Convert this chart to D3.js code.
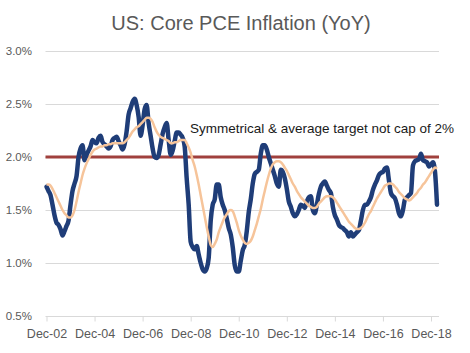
<!DOCTYPE html>
<html>
<head>
<meta charset="utf-8">
<script src="https://cdn.jsdelivr.net/npm/d3@7"></script>
<style>
html,body{margin:0;padding:0;background:#fff;}
svg{display:block;}
</style>
</head>
<body>
<svg id="chart" width="470" height="353"></svg>
<script>
// Monthly data starting Dec-02 (index 0) through Mar-19
const corePCE = [
1.72,1.68,1.64,1.55,1.45,1.38,1.36,1.32,1.26,1.30,1.35,1.40,
1.55,1.68,1.75,1.82,2.00,2.08,2.11,1.97,2.02,2.06,2.10,2.16,
2.14,2.13,2.18,2.20,2.14,2.12,2.10,2.08,2.10,2.16,2.18,2.19,
2.15,2.11,2.07,2.12,2.24,2.40,2.46,2.52,2.55,2.49,2.38,2.20,
2.30,2.45,2.49,2.32,2.20,2.08,2.00,1.99,2.02,2.12,2.22,2.28,
2.32,2.16,2.02,2.06,2.15,2.23,2.23,2.21,2.18,2.10,1.80,1.55,
1.20,1.15,1.13,1.16,1.08,1.00,0.94,0.92,0.95,1.05,1.40,1.55,
1.60,1.74,1.74,1.62,1.55,1.50,1.42,1.33,1.27,1.15,0.98,0.92,
0.92,1.02,1.12,1.17,1.30,1.48,1.60,1.75,1.84,1.86,1.88,2.03,
2.11,2.11,2.07,2.00,1.94,1.88,1.82,1.75,1.72,1.88,1.86,1.80,
1.70,1.58,1.53,1.47,1.44,1.46,1.50,1.55,1.54,1.52,1.58,1.62,
1.63,1.50,1.47,1.55,1.65,1.72,1.75,1.77,1.73,1.69,1.66,1.53,
1.45,1.41,1.36,1.34,1.33,1.31,1.29,1.25,1.29,1.25,1.27,1.29,
1.31,1.40,1.50,1.55,1.55,1.58,1.62,1.69,1.74,1.78,1.83,1.85,
1.86,1.89,1.90,1.78,1.66,1.63,1.61,1.55,1.47,1.44,1.50,1.60,
1.62,1.64,1.66,1.92,1.96,1.97,1.98,2.03,1.97,1.96,1.95,1.91,
1.93,1.95,1.86,1.55
];
const smoothed = [
1.74,1.74,1.73,1.70,1.66,1.62,1.58,1.54,1.50,1.47,1.45,1.43,
1.43,1.45,1.50,1.58,1.67,1.75,1.83,1.89,1.94,1.98,2.02,2.05,
2.07,2.08,2.09,2.10,2.10,2.11,2.11,2.12,2.12,2.13,2.13,2.13,
2.13,2.13,2.13,2.14,2.16,2.18,2.21,2.24,2.26,2.28,2.29,2.31,
2.33,2.35,2.37,2.37,2.36,2.33,2.28,2.24,2.21,2.19,2.18,2.17,
2.16,2.15,2.13,2.13,2.14,2.14,2.15,2.16,2.16,2.16,2.13,2.09,
2.04,1.97,1.91,1.83,1.74,1.64,1.54,1.44,1.34,1.25,1.17,1.15,
1.18,1.22,1.29,1.34,1.39,1.43,1.46,1.49,1.50,1.49,1.44,1.38,
1.31,1.26,1.22,1.19,1.18,1.19,1.21,1.25,1.31,1.37,1.44,1.51,
1.60,1.68,1.76,1.83,1.89,1.93,1.95,1.96,1.96,1.95,1.93,1.90,
1.87,1.83,1.79,1.75,1.72,1.68,1.65,1.62,1.60,1.58,1.56,1.54,
1.53,1.52,1.52,1.53,1.56,1.58,1.60,1.62,1.63,1.63,1.63,1.62,
1.60,1.57,1.54,1.51,1.48,1.45,1.42,1.39,1.37,1.35,1.33,1.32,
1.32,1.33,1.35,1.38,1.42,1.46,1.49,1.53,1.57,1.61,1.64,1.67,
1.70,1.73,1.74,1.75,1.75,1.74,1.72,1.70,1.67,1.65,1.63,1.61,
1.60,1.59,1.60,1.62,1.64,1.66,1.69,1.71,1.74,1.76,1.79,1.82,
1.85,1.88,1.90,1.89
];
const xTickLabels = ["Dec-02","Dec-04","Dec-06","Dec-08","Dec-10","Dec-12","Dec-14","Dec-16","Dec-18"];
const yTicks = [0.5,1.0,1.5,2.0,2.5,3.0];
const target = 2.0;
const titleText = "US: Core PCE Inflation (YoY)";
const noteText = "Symmetrical & average target not cap of 2%";

const svg = d3.select("#chart");
const x = d3.scaleLinear().domain([0,196]).range([46.5,439]);
const y = d3.scaleLinear().domain([0.5,3.0]).range([316,51]);
const font = "'Liberation Sans', Arial, sans-serif";

svg.append("text").attr("x",241).attr("y",30).attr("text-anchor","middle")
  .attr("font-family",font).attr("font-size",20).attr("fill","#595959").text(titleText);

// gridlines
svg.append("g").selectAll("line").data(yTicks.filter(d=>d>0.5)).join("line")
  .attr("x1",x(0)-1).attr("x2",x(196)).attr("y1",d=>Math.round(y(d))+0.5).attr("y2",d=>Math.round(y(d))+0.5)
  .attr("stroke","#d9d9d9").attr("stroke-width",1);

// y labels
svg.append("g").selectAll("text").data(yTicks).join("text")
  .attr("x",32).attr("y",d=>y(d)+4).attr("text-anchor","end")
  .attr("font-family",font).attr("font-size",11.5).attr("fill","#595959")
  .text(d=>d3.format(".1f")(d)+"%");

// x axis
const xAxis = d3.axisBottom(x).tickValues(d3.range(0,193,24)).tickSize(5)
  .tickFormat((d,i)=>xTickLabels[i]);
const gx = svg.append("g").attr("transform",`translate(0,${Math.round(y(0.5))+0.5})`).call(xAxis);
gx.select(".domain").attr("stroke","#d9d9d9").attr("d",`M${x(0)-1},0H${x(196)}`);
gx.selectAll(".tick line").attr("stroke","#d9d9d9");
gx.selectAll(".tick text").attr("font-family",font).attr("font-size",12.5).attr("fill","#595959").attr("dy","1.05em");

// target line
svg.append("line").attr("x1",x(0)-1).attr("x2",x(196)).attr("y1",y(target)).attr("y2",y(target))
  .attr("stroke","#a0403d").attr("stroke-width",3);

const line = d3.line().x((d,i)=>x(i)).y(d=>y(d)).curve(d3.curveMonotoneX);
svg.append("path").datum(corePCE).attr("d",line).attr("fill","none")
  .attr("stroke","#1f3d78").attr("stroke-width",4.5).attr("stroke-linejoin","round").attr("stroke-linecap","round");
svg.append("path").datum(smoothed).attr("d",line).attr("fill","none")
  .attr("stroke","#f6c49a").attr("stroke-width",2.5).attr("stroke-linejoin","round");

svg.append("text").attr("x",190).attr("y",133).attr("font-family",font).attr("font-size",13.5)
  .attr("fill","#1a1a1a").text(noteText);
</script>
</body>
</html>
